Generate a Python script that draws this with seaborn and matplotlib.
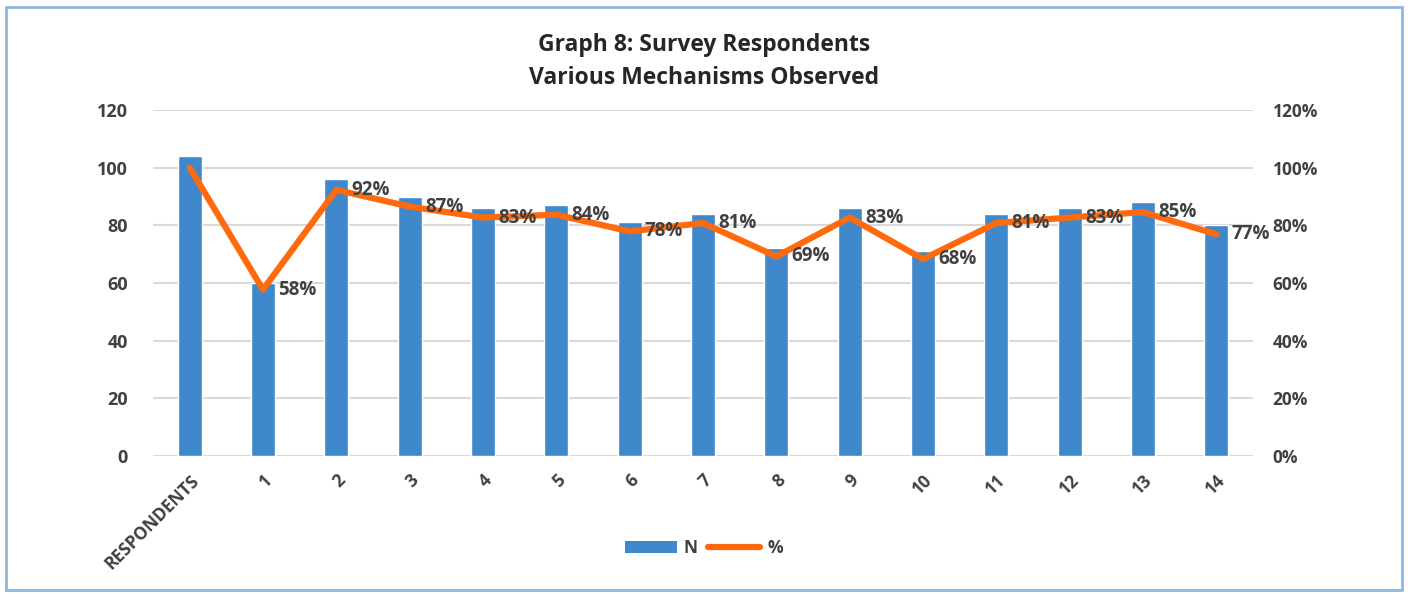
import matplotlib
matplotlib.use("Agg")
import matplotlib.pyplot as plt
import seaborn as sns
import numpy as np
import pandas as pd
from matplotlib.patches import Rectangle, Patch
from matplotlib.lines import Line2D

categories = ["RESPONDENTS", "1", "2", "3", "4", "5", "6", "7", "8", "9", "10", "11", "12", "13", "14"]
n_values = [104, 60, 96, 90, 86, 87, 81, 84, 72, 86, 71, 84, 86, 88, 80]
pct_values = [1.00, 0.577, 0.923, 0.865, 0.827, 0.837, 0.779, 0.808, 0.692, 0.827, 0.683, 0.808, 0.827, 0.846, 0.769]
pct_labels = ["", "58%", "92%", "87%", "83%", "84%", "78%", "81%", "69%", "83%", "68%", "81%", "83%", "85%", "77%"]
left_ticks = [0, 20, 40, 60, 80, 100, 120]
right_ticks = [0, 0.2, 0.4, 0.6, 0.8, 1.0, 1.2]
right_tick_labels = ["0%", "20%", "40%", "60%", "80%", "100%", "120%"]

sns.set_theme(style="white")
plt.rcParams["font.family"] = ["Open Sans", "DejaVu Sans"]

BAR = "#3F88CC"
LINE = "#FF6A0D"
TXT = "#404040"
GRID = "#D9D9D9"

df = pd.DataFrame({"cat": categories, "N": n_values, "pct": pct_values})
df["pos"] = np.arange(len(df))

fig = plt.figure(figsize=(14.08, 5.95), dpi=100)
ax = fig.add_axes([153 / 1408, 1 - 456 / 595, 1100 / 1408, 346 / 595])

sns.barplot(data=df, x="cat", y="N", order=categories, color=BAR, width=0.33,
            saturation=1, ax=ax, zorder=2)
ax.set_xlim(-0.5, len(categories) - 0.5)
ax.set_ylim(0, 120)
ax.set_yticks(left_ticks)
ax.set_yticklabels([str(t) for t in left_ticks], fontsize=13, fontweight="bold", color=TXT)
ax.yaxis.grid(True, color=GRID, lw=1.5, zorder=0)
ax.set_axisbelow(True)
for s in ax.spines.values():
    s.set_visible(False)
ax.set_xlabel("")
ax.set_ylabel("")
ax.tick_params(axis="y", length=0, pad=18)
ax.tick_params(axis="x", length=0, pad=11)
ax.set_xticks(range(len(categories)))
ax.set_xticklabels(categories, rotation=45, ha="right", rotation_mode="anchor",
                   fontsize=12.5, fontweight="bold", color=TXT)

ax2 = ax.twinx()
sns.lineplot(data=df, x="pos", y="pct", color=LINE, lw=4.5, ax=ax2, zorder=3,
             solid_capstyle="round", solid_joinstyle="round")
ax2.set_ylim(0, 1.2)
ax2.set_xlim(-0.5, len(categories) - 0.5)
ax2.set_yticks(right_ticks)
ax2.set_yticklabels(right_tick_labels, fontsize=12.5, fontweight="bold", color=TXT)
ax2.tick_params(axis="y", length=0, pad=14)
ax2.set_ylabel("")
ax2.set_xlabel("")
for s in ax2.spines.values():
    s.set_visible(False)

for x, y, lab in zip(df["pos"], pct_values, pct_labels):
    if lab:
        ax2.annotate(lab, (x, y), xytext=(11, 0), textcoords="offset points",
                     ha="left", va="center", fontsize=13.5, fontweight="bold", color=TXT, zorder=4)

fig.text(0.5, 1 - 45 / 595, "Graph 8: Survey Respondents", ha="center", va="center",
         fontsize=16.5, fontweight="bold", color="#262626")
fig.text(0.5, 1 - 78 / 595, "Various Mechanisms Observed", ha="center", va="center",
         fontsize=16.5, fontweight="bold", color="#262626")

handles = [Patch(facecolor=BAR, edgecolor="none"), Line2D([0], [0], color=LINE, lw=4.5)]
fig.legend(handles, ["N", "%"], loc="center", bbox_to_anchor=(0.5, 1 - 548 / 595), ncol=2,
           frameon=False, prop={"size": 12.5, "weight": "bold"}, handlelength=3.0,
           handleheight=0.7, columnspacing=0.6, handletextpad=0.4, labelcolor=TXT)

fig.patches.append(Rectangle((6 / 1408, 5 / 595), 1396 / 1408, 583 / 595, transform=fig.transFigure,
                             fill=False, edgecolor="#8DB8E2", lw=2))

fig.savefig("out.png", dpi=100, facecolor="white")
